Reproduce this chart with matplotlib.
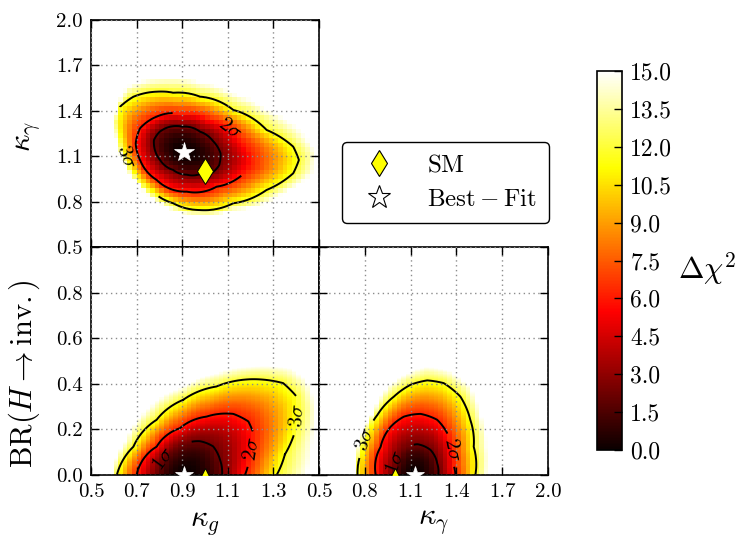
import numpy as np
import matplotlib
matplotlib.use("Agg")
import matplotlib.pyplot as plt
from matplotlib.lines import Line2D

plt.rcParams.update({
    "font.family": "serif",
    "font.serif": ["cmr10"],
    "mathtext.fontset": "cm",
    "axes.formatter.use_mathtext": True,
    "axes.unicode_minus": False,
})

# ---------------- data ----------------
CONTOUR_LEVELS = [2.30, 6.18, 11.83]          # 1, 2, 3 sigma (2 dof)
CONTOUR_NAMES = [r"$1\sigma$", r"$2\sigma$", r"$3\sigma$"]
EDGE_LEVEL = 15.0                              # colour scale maximum

best_kg, best_ka, best_br = 0.91, 1.13, 0.0
best_ka_br = 1.126
sm_kg, sm_ka, sm_br = 1.0, 1.0, 0.0

# top panel (kappa_g, kappa_gamma) contour vertices
top_1s_kg = [0.776, 0.80, 0.832, 0.90, 0.978, 1.035, 1.068, 1.062, 1.036, 0.98, 0.92, 0.86, 0.803]
top_1s_ka = [1.207, 1.26, 1.288, 1.295, 1.262, 1.20, 1.119, 1.04, 0.995, 0.982, 0.978, 1.01, 1.075]
top_2s_kg = [0.898, 0.788, 0.715, 0.696, 0.715, 0.788, 0.92, 1.051, 1.154, 1.205, 1.20, 1.15, 1.02]
top_2s_ka = [1.379, 1.361, 1.284, 1.185, 1.075, 0.943, 0.866, 0.899, 0.965, 1.037, 1.12, 1.22, 1.34]
top_3s_kg = [0.613, 0.627, 0.686, 0.788, 0.861, 0.978, 1.124, 1.27, 1.387, 1.412, 1.387, 1.27,
             1.124, 0.978, 0.861, 0.773, 0.70, 0.655, 0.63]
top_3s_ka = [1.321, 1.427, 1.493, 1.526, 1.519, 1.493, 1.405, 1.273, 1.163, 1.075, 0.987, 0.877,
             0.789, 0.744, 0.789, 0.861, 0.96, 1.09, 1.21]
top_edge_kg = [0.605, 0.62, 0.657, 0.803, 0.978, 1.124, 1.27, 1.417, 1.49, 1.475, 1.343, 1.124,
               0.978, 0.803, 0.715, 0.642]
top_edge_ka = [1.25, 1.45, 1.56, 1.62, 1.59, 1.515, 1.405, 1.273, 1.119, 0.987, 0.855, 0.744,
               0.711, 0.789, 0.899, 1.075]

# bottom-left panel (kappa_g, BR) contour vertices
bl_1s_kg = [1.075, 1.066, 1.036, 0.978, 0.92, 0.86, 0.817, 0.79]
bl_1s_br = [0.0, 0.066, 0.125, 0.148, 0.14, 0.11, 0.07, 0.0]
bl_2s_kg = [1.175, 1.19, 1.205, 1.212, 1.19, 1.124, 1.007, 0.89, 0.788, 0.70]
bl_2s_br = [0.0, 0.05, 0.113, 0.183, 0.235, 0.268, 0.256, 0.205, 0.124, 0.0]
bl_3s_kg = [1.314, 1.35, 1.387, 1.41, 1.402, 1.343, 1.2, 1.05, 0.905, 0.788, 0.686, 0.613]
bl_3s_br = [0.0, 0.09, 0.168, 0.27, 0.344, 0.403, 0.42, 0.388, 0.33, 0.242, 0.124, 0.0]
bl_edge_kg = [1.446, 1.475, 1.49, 1.446, 1.373, 1.197, 1.051, 0.905, 0.759, 0.656, 0.59]
bl_edge_br = [0.0, 0.154, 0.30, 0.418, 0.469, 0.476, 0.447, 0.388, 0.30, 0.154, 0.0]

# bottom-right panel (kappa_gamma, BR) contour vertices
br_1s_ka = [1.281, 1.274, 1.23, 1.144, 1.07, 1.017, 0.99]
br_1s_br = [0.0, 0.051, 0.11, 0.135, 0.12, 0.07, 0.0]
br_2s_ka = [1.394, 1.383, 1.372, 1.34, 1.274, 1.165, 1.056, 0.97, 0.904, 0.872]
br_2s_br = [0.0, 0.04, 0.11, 0.183, 0.242, 0.268, 0.256, 0.212, 0.124, 0.0]
br_3s_ka = [1.524, 1.513, 1.491, 1.426, 1.317, 1.209, 1.10, 0.991, 0.883, 0.807, 0.774, 0.752]
br_3s_br = [0.0, 0.124, 0.242, 0.344, 0.403, 0.415, 0.396, 0.344, 0.264, 0.163, 0.095, 0.0]
br_edge_ka = [1.60, 1.60, 1.557, 1.491, 1.361, 1.209, 1.10, 0.948, 0.85, 0.774, 0.73]
br_edge_br = [0.0, 0.124, 0.27, 0.388, 0.454, 0.476, 0.454, 0.388, 0.27, 0.16, 0.0]

# contour label anchor points
top_label_pos = {6.18: (1.10, 1.27), 11.83: (0.65, 1.09)}
bl_label_pos = {2.30: (0.817, 0.07), 6.18: (1.205, 0.113), 11.83: (1.41, 0.26)}
br_label_pos = {2.30: (1.01, 0.055), 6.18: (1.372, 0.11), 11.83: (0.80, 0.16)}

kg_ticks = [0.5, 0.7, 0.9, 1.1, 1.3, 1.5]
kg_ticklabels = ["0.5", "0.7", "0.9", "1.1", "1.3", ""]
ka_ticks = [0.5, 0.8, 1.1, 1.4, 1.7, 2.0]
ka_ticklabels = ["0.5", "0.8", "1.1", "1.4", "1.7", "2.0"]
br_ticks = [0.0, 0.2, 0.4, 0.6, 0.8, 1.0]
br_ticklabels = ["0.0", "0.2", "0.4", "0.6", "0.8", ""]
cbar_ticks = [0.0, 1.5, 3.0, 4.5, 6.0, 7.5, 9.0, 10.5, 12.0, 13.5, 15.0]

KG_RANGE = (0.5, 1.5)
KA_RANGE = (0.5, 2.0)
BR_RANGE = (0.0, 1.0)


# ---------------- field built from the contour data ----------------
def chi2_field(X, Y, center, scale, contours, periodic):
    cx, cy = center
    sx, sy = scale
    dx = (X - cx) / sx
    dy = (Y - cy) / sy
    r = np.hypot(dx, dy)
    th = np.arctan2(dy, dx)
    knots_r = [np.zeros_like(r)]
    for xs, ys in contours:
        ex = (np.asarray(xs) - cx) / sx
        ey = (np.asarray(ys) - cy) / sy
        et = np.arctan2(ey, ex)
        er = np.hypot(ex, ey)
        o = np.argsort(et)
        if periodic:
            rr = np.interp(th, et[o], er[o], period=2 * np.pi)
        else:
            rr = np.interp(np.clip(th, 0, np.pi), et[o], er[o])
        rr = np.maximum(rr, knots_r[-1] + 1e-3)
        knots_r.append(rr)
    knots_s = np.sqrt(np.concatenate([[0.0], CONTOUR_LEVELS, [EDGE_LEVEL]]))
    s = np.zeros_like(r)
    n = len(knots_r)
    for k in range(n - 1):
        r0, r1 = knots_r[k], knots_r[k + 1]
        val = knots_s[k] + (r - r0) / (r1 - r0) * (knots_s[k + 1] - knots_s[k])
        mask = (r >= r0) if k == n - 2 else ((r >= r0) & (r < r1))
        s = np.where(mask, val, s)
    return s ** 2


panels = {
    "top": dict(center=(best_kg, best_ka), scale=(1.0, 1.5), periodic=True,
                xr=KG_RANGE, yr=KA_RANGE, dxc=0.02, dyc=0.03,
                contours=[(top_1s_kg, top_1s_ka), (top_2s_kg, top_2s_ka),
                          (top_3s_kg, top_3s_ka), (top_edge_kg, top_edge_ka)]),
    "bl": dict(center=(best_kg, best_br), scale=(1.0, 1.0), periodic=False,
               xr=KG_RANGE, yr=BR_RANGE, dxc=0.02, dyc=0.005,
               contours=[(bl_1s_kg, bl_1s_br), (bl_2s_kg, bl_2s_br),
                         (bl_3s_kg, bl_3s_br), (bl_edge_kg, bl_edge_br)]),
    "br": dict(center=(best_ka_br, best_br), scale=(1.5, 1.0), periodic=False,
               xr=KA_RANGE, yr=BR_RANGE, dxc=0.03, dyc=0.005,
               contours=[(br_1s_ka, br_1s_br), (br_2s_ka, br_2s_br),
                         (br_3s_ka, br_3s_br), (br_edge_ka, br_edge_br)]),
}

# ---------------- figure ----------------
fig = plt.figure(figsize=(7.35, 5.36), dpi=100)
ax_top = fig.add_axes([91 / 735, 1 - 247 / 536, 228 / 735, 227 / 536])
ax_bl = fig.add_axes([91 / 735, 1 - 475 / 536, 228 / 735, 228 / 536])
ax_br = fig.add_axes([319 / 735, 1 - 475 / 536, 229 / 735, 228 / 536])
cax = fig.add_axes([597 / 735, 1 - 450 / 536, 25 / 735, 379 / 536])

axes = {"top": ax_top, "bl": ax_bl, "br": ax_br}
label_pos = {"top": top_label_pos, "bl": bl_label_pos, "br": br_label_pos}
spacing = {"top": {6.18: 48, 11.83: 40},
           "bl": {2.30: 22, 6.18: 6, 11.83: 8},
           "br": {2.30: 14, 6.18: 5, 11.83: 8}}

mesh = None
for key, p in panels.items():
    ax = axes[key]
    xe = np.arange(p["xr"][0], p["xr"][1] + 1e-9, p["dxc"])
    ye = np.arange(p["yr"][0], p["yr"][1] + 1e-9, p["dyc"])
    xc = 0.5 * (xe[1:] + xe[:-1])
    yc = 0.5 * (ye[1:] + ye[:-1])
    Xc, Yc = np.meshgrid(xc, yc)
    Zc = chi2_field(Xc, Yc, p["center"], p["scale"], p["contours"], p["periodic"])
    m = ax.pcolormesh(xe, ye, Zc, cmap="hot", vmin=0, vmax=EDGE_LEVEL, shading="flat", zorder=1)
    if mesh is None:
        mesh = m
    xf = np.linspace(p["xr"][0], p["xr"][1], 401)
    yf = np.linspace(p["yr"][0], p["yr"][1], 401)
    Xf, Yf = np.meshgrid(xf, yf)
    Zf = chi2_field(Xf, Yf, p["center"], p["scale"], p["contours"], p["periodic"])
    ax.set_xlim(*p["xr"])
    ax.set_ylim(*p["yr"])
    for lvl, name in zip(CONTOUR_LEVELS, CONTOUR_NAMES):
        cs = ax.contour(Xf, Yf, Zf, levels=[lvl], colors="k", linewidths=1.4, zorder=2)
        if lvl in label_pos[key]:
            ax.clabel(cs, fmt={lvl: name}, manual=[label_pos[key][lvl]], inline=True,
                      inline_spacing=spacing[key][lvl], fontsize=15)

# markers
ax_top.plot([sm_kg], [sm_ka], ls="none", marker="d", ms=13, mfc="yellow", mec="k", mew=0.7, zorder=6)
ax_top.plot([best_kg], [best_ka], ls="none", marker="*", ms=15, mfc="white", mec="white", mew=0.5, zorder=6)
ax_bl.plot([sm_kg], [sm_br], ls="none", marker="^", ms=10, mfc="yellow", mec="k", mew=0.7, zorder=6)
ax_bl.plot([best_kg], [best_br], ls="none", marker="*", ms=13, mfc="white", mec="white", mew=0.5, zorder=6)
ax_br.plot([sm_ka], [sm_br], ls="none", marker="^", ms=10, mfc="yellow", mec="k", mew=0.7, zorder=6)
ax_br.plot([best_ka_br], [best_br], ls="none", marker="*", ms=13, mfc="white", mec="white", mew=0.5, zorder=6)

# axes styling
for ax in (ax_top, ax_bl, ax_br):
    ax.set_axisbelow(False)
    ax.grid(True, color="0.55", linestyle=(0, (1, 2.5)), linewidth=1.0)
    ax.tick_params(direction="in", top=True, right=True, length=6, width=1.0,
                   labelsize=15, pad=6)
    for sp in ax.spines.values():
        sp.set_linewidth(1.2)

ax_top.set_xticks(kg_ticks)
ax_top.set_yticks(ka_ticks)
ax_top.set_yticklabels(ka_ticklabels)
ax_top.tick_params(labelbottom=False)

ax_bl.set_xticks(kg_ticks)
ax_bl.set_xticklabels(kg_ticklabels)
ax_bl.set_yticks(br_ticks)
ax_bl.set_yticklabels(br_ticklabels)

ax_br.set_xticks(ka_ticks)
ax_br.set_xticklabels(ka_ticklabels)
ax_br.set_yticks(br_ticks)
ax_br.tick_params(labelleft=False)

ax_top.set_ylabel(r"$\kappa_\gamma$", fontsize=22)
ax_top.yaxis.set_label_coords(-0.21, 0.485)
ax_bl.set_ylabel(r"$\mathrm{BR}(H\rightarrow\mathrm{inv.})$", fontsize=22)
ax_bl.yaxis.set_label_coords(-0.215, 0.445)
ax_bl.set_xlabel(r"$\kappa_g$", fontsize=22)
ax_bl.xaxis.set_label_coords(0.5, -0.15)
ax_br.set_xlabel(r"$\kappa_\gamma$", fontsize=22)
ax_br.xaxis.set_label_coords(0.5, -0.15)

# colorbar
cb = fig.colorbar(mesh, cax=cax, ticks=cbar_ticks, format="%.1f")
cb.outline.set_linewidth(1.2)
cax.tick_params(direction="in", length=6, width=1.0, labelsize=17, right=True, left=False, pad=6)
cax.set_ylabel(r"$\Delta\chi^2$", fontsize=22, rotation=0, ha="center", va="center")
cax.yaxis.set_label_coords(4.39, 0.48)

# legend
handles = [Line2D([], [], ls="none", marker="d", ms=13, mfc="yellow", mec="k", mew=0.8),
           Line2D([], [], ls="none", marker="*", ms=17, mfc="white", mec="k", mew=0.8)]
leg = fig.legend(handles, [r"$\rm SM$", r"$\rm Best-Fit$"], loc="center",
                 bbox_to_anchor=(0.6061, 0.6595), fontsize=18, frameon=True,
                 fancybox=True, numpoints=1, handletextpad=0.9, borderpad=0.5,
                 labelspacing=0.45, handlelength=2.0)
leg.get_frame().set_edgecolor("k")
leg.get_frame().set_linewidth(1.0)
leg.get_frame().set_alpha(1.0)

fig.savefig("out.png", dpi=100)
